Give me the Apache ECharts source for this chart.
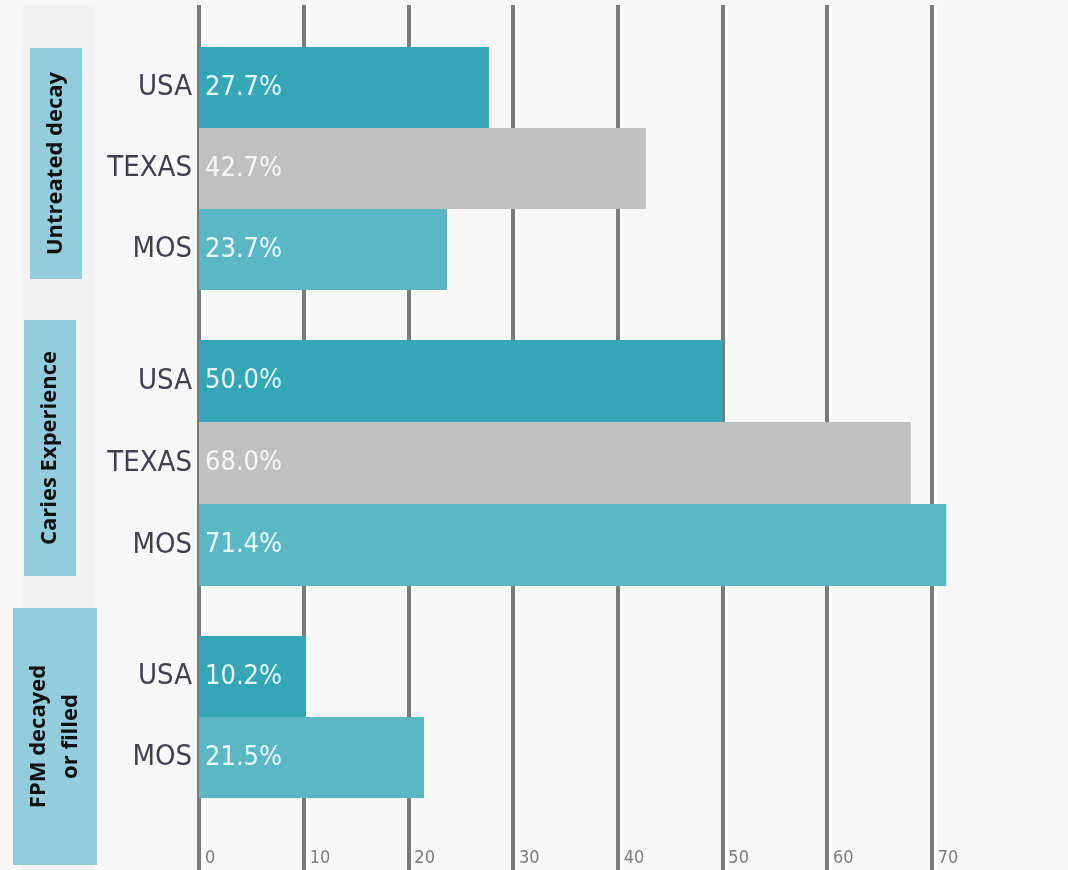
<!doctype html>
<html>
<head>
	<meta charset="utf-8">
	<title>Dental caries</title>
	<script src="https://cdn.jsdelivr.net/npm/echarts@6/dist/echarts.min.js"></script>
	<style>
		html, body {margin:0;padding:0;background:#f7f7f7;}
		#main {width:1068px;height:870px;}
	</style>
</head>
<body>
	<div id="main"></div>
<script>
	"use strict";
	// data
	var groupNames = ['Untreated decay', 'Caries Experience', 'FPM decayed\nor filled'];
	var untreatedRegions = ['USA', 'TEXAS', 'MOS'];
	var untreatedValues = [27.7, 42.7, 23.7];
	var cariesRegions = ['USA', 'TEXAS', 'MOS'];
	var cariesValues = [50.0, 68.0, 71.4];
	var fpmRegions = ['USA', 'MOS'];
	var fpmValues = [10.2, 21.5];
	var xMin = 0, xMax = 70, xStep = 10;

	var regionColor = {USA: '#35a6b6', TEXAS: '#c0c0c0', MOS: '#5cb7c5'};
	var labelColor = {USA: '#e4f8fa', TEXAS: '#f6f6f6', MOS: '#e8f9fb'};
	var narrow = "'Liberation Sans Narrow', 'DejaVu Sans Condensed', sans-serif";

	var groups = [
		{name: groupNames[0], regions: untreatedRegions, values: untreatedValues, top: 47, height: 243, box: [30, 48, 52, 231]},
		{name: groupNames[1], regions: cariesRegions, values: cariesValues, top: 340, height: 246, box: [24, 320, 52, 256]},
		{name: groupNames[2], regions: fpmRegions, values: fpmValues, top: 636, height: 162, box: [13, 608, 84, 257]}
	];

	var gridLeft = 199, gridWidth = 732.7;
	var grids = [{left: gridLeft, width: gridWidth, top: 5, bottom: 0}];
	var xAxes = [{
		type: 'value', gridIndex: 0, min: xMin, max: xMax, interval: xStep,
		axisLine: {show: false}, axisTick: {show: false},
		axisLabel: {inside: true, margin: 3, align: 'left', padding: [0, 0, 0, 6],
			fontSize: 18, color: '#7f7a80', fontFamily: narrow},
		splitLine: {lineStyle: {color: '#7a7a7a', width: 4, shadowColor: '#ffffff', shadowOffsetX: 3, shadowBlur: 0}}
	}];
	var yAxes = [{type: 'value', gridIndex: 0, show: false}];
	var series = [];
	var graphics = [{type: 'rect', shape: {x: 22, y: 5, width: 73, height: 865}, style: {fill: '#f2f2f2'}, z: -1}];

	groups.forEach(function(g, i){
		var gi = i + 1;
		grids.push({left: gridLeft, width: gridWidth, top: g.top, height: g.height});
		xAxes.push({type: 'value', gridIndex: gi, min: xMin, max: xMax, show: false, splitLine: {show: false}});
		yAxes.push({
			type: 'category', gridIndex: gi, data: g.regions, inverse: true,
			axisLine: {show: false}, axisTick: {show: false},
			axisLabel: {margin: 7, fontSize: 29, color: '#43404e', fontFamily: narrow}
		});
		series.push({
			type: 'bar', xAxisIndex: gi, yAxisIndex: gi,
			barCategoryGap: '0%', clip: false,
			data: g.values.map(function(v, k){
				return {value: v, itemStyle: {color: regionColor[g.regions[k]]},
					label: {color: labelColor[g.regions[k]]}};
			}),
			label: {show: true, position: 'insideLeft', distance: 6, fontSize: 27, fontFamily: narrow,
				formatter: function(p){ return p.value.toFixed(1) + '%'; }}
		});
		graphics.push({type: 'rect', shape: {x: g.box[0], y: g.box[1], width: g.box[2], height: g.box[3]},
			style: {fill: '#93cddd'}, z: 1});
		graphics.push({type: 'text', x: g.box[0] + g.box[2] / 2, y: g.box[1] + g.box[3] / 2, rotation: Math.PI / 2, z: 2,
			style: {text: g.name, fill: '#111111', font: "bold 22px 'Open Sans', sans-serif",
				align: 'center', verticalAlign: 'middle', lineHeight: 32}});
	});

	var myChart = echarts.init(document.getElementById('main'));
	myChart.setOption({
		backgroundColor: '#f7f7f7',
		animation: false,
		grid: grids,
		xAxis: xAxes,
		yAxis: yAxes,
		series: series,
		graphic: graphics
	});
</script>
</body>
</html>
